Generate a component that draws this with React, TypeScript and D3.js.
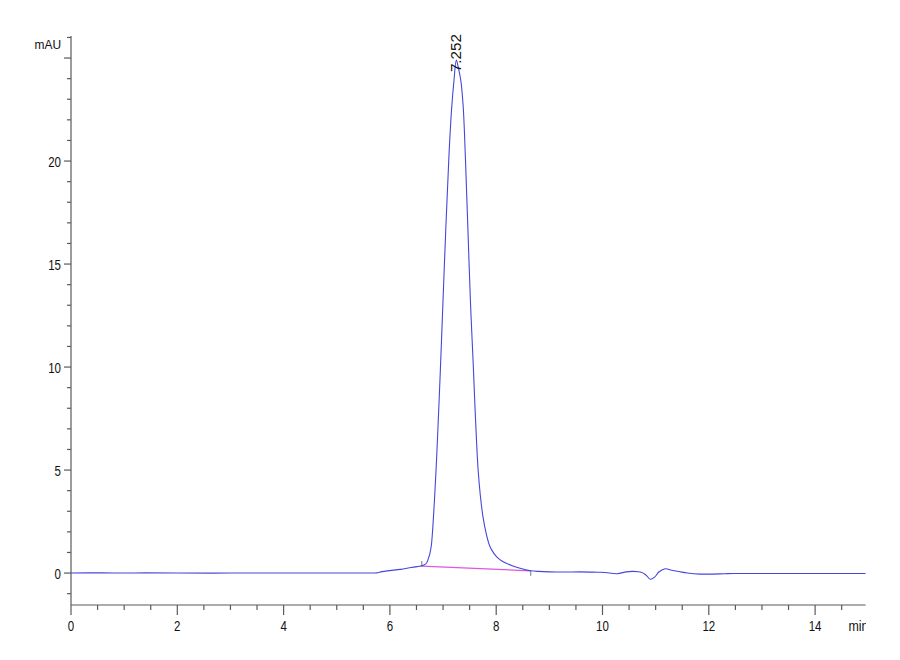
import React from "react";
import * as d3 from "d3";

// ---- data ----
const times = [
  0, 0.6, 1.0, 1.4, 2, 3, 4, 5, 5.6, 5.75, 5.85, 6.0, 6.2, 6.4, 6.55, 6.6, 6.65, 6.69, 6.72, 6.754,
  6.78, 6.8, 6.835, 6.87, 6.9, 6.95, 6.99, 7.05, 7.11, 7.16, 7.205, 7.25, 7.29, 7.335, 7.38, 7.42,
  7.465, 7.515, 7.57, 7.6, 7.63, 7.66, 7.7, 7.75, 7.81, 7.88, 7.95, 8.01, 8.1, 8.2, 8.3, 8.45, 8.55,
  8.65, 8.8, 9.0, 9.3, 9.58, 9.9, 10.05, 10.27, 10.45, 10.57, 10.74, 10.82, 10.9, 10.98, 11.06,
  11.18, 11.3, 11.46, 11.6, 11.83, 12.0, 12.3, 12.46, 13, 14, 14.95,
];
const signal = [
  0, 0.01, 0.0, 0.01, 0, 0, 0, 0, 0, 0.01, 0.07, 0.12, 0.18, 0.27, 0.33, 0.35, 0.4, 0.49, 0.68, 0.97,
  1.35, 1.94, 3.4, 5.1, 6.8, 9.9, 12.6, 16.6, 20.2, 22.5, 23.9, 24.9, 24.5, 23.9, 22.6, 20.2,
  16.9, 13.2, 10.0, 8.1, 6.4, 5.0, 3.8, 2.75, 1.94, 1.3, 0.98, 0.79, 0.6, 0.47, 0.36, 0.23, 0.16,
  0.11, 0.08, 0.06, 0.05, 0.06, 0.04, 0.03, -0.03, 0.06, 0.08, 0.03, -0.1, -0.3, -0.2, 0.05,
  0.21, 0.14, 0.06, 0.0, -0.05, -0.05, -0.03, -0.02, -0.02, -0.02, -0.02,
];
const baselineTimes = [6.6, 8.65];
const baselineValues = [0.34, 0.11];
const peakTime = 7.252;
const peakValue = 24.9;
const peakLabel = "7.252";
const xMajorTicks = [0, 2, 4, 6, 8, 10, 12, 14];
const yMajorTicks = [0, 5, 10, 15, 20, 25];
const yLabelledTicks = [0, 5, 10, 15, 20];
const xUnit = "min";
const yUnit = "mAU";

const FONT = "'Liberation Sans', Arial, sans-serif";

export default function App() {
  const x = d3.scaleLinear().domain([0, 14.95]).range([71, 865.6]);
  const y = d3.scaleLinear().domain([-1.55, 26.07]).range([605, 36]);

  const pts: [number, number][] = times.map((t, i) => [t, signal[i]]);
  const line = d3
    .line<[number, number]>()
    .x((d) => x(d[0]))
    .y((d) => y(d[1]))
    .curve(d3.curveCatmullRom.alpha(0.5));

  const xMinor = d3.range(0, 14.95, 0.5).filter((v) => !xMajorTicks.includes(v));
  const yMinor = d3.range(-1, 27, 1).filter((v) => !yMajorTicks.includes(v));

  const axisColor = "#5a5a5a";

  return (
    <svg
      width={900}
      height={660}
      style={{ position: "fixed", left: 0, top: 0, background: "#fff" }}
    >
      <rect x={0} y={0} width={900} height={660} fill="#fff" />
      <defs>
        <clipPath id="minclip">
          <rect x={0} y={0} width={866} height={660} />
        </clipPath>
      </defs>

      {/* y axis */}
      <line x1={x(0)} x2={x(0)} y1={y(26.07)} y2={y(-1.55)} stroke={axisColor} strokeWidth={1.2} />
      {yMajorTicks.map((v) => (
        <line key={"ym" + v} x1={x(0) - 7} x2={x(0)} y1={y(v)} y2={y(v)} stroke={axisColor} strokeWidth={1.2} />
      ))}
      {yMinor.map((v) => (
        <line key={"yn" + v} x1={x(0) - 4} x2={x(0)} y1={y(v)} y2={y(v)} stroke={axisColor} strokeWidth={1.2} />
      ))}
      {yLabelledTicks.map((v) => {
        const s = String(v);
        return (
          <text
            key={"yl" + v}
            x={61}
            y={y(v) + 5.5}
            textAnchor="end"
            fontFamily={FONT}
            fontSize={15.5}
            fill="#111"
            textLength={s.length * 6.4}
            lengthAdjust="spacingAndGlyphs"
          >
            {s}
          </text>
        );
      })}
      <text
        x={61}
        y={49}
        textAnchor="end"
        fontFamily={FONT}
        fontSize={13}
        fill="#111"
        textLength={26.5}
        lengthAdjust="spacingAndGlyphs"
      >
        {yUnit}
      </text>

      {/* x axis */}
      <line x1={x(0)} x2={x(14.95)} y1={605} y2={605} stroke={axisColor} strokeWidth={1.2} />
      {xMajorTicks.map((v) => (
        <line key={"xm" + v} x1={x(v)} x2={x(v)} y1={605} y2={615} stroke={axisColor} strokeWidth={1.2} />
      ))}
      {xMinor.map((v) => (
        <line key={"xn" + v} x1={x(v)} x2={x(v)} y1={605} y2={610} stroke={axisColor} strokeWidth={1.2} />
      ))}
      {xMajorTicks.map((v) => {
        const s = String(v);
        return (
          <text
            key={"xl" + v}
            x={x(v)}
            y={630.5}
            textAnchor="middle"
            fontFamily={FONT}
            fontSize={15.5}
            fill="#111"
            textLength={s.length * 6.4}
            lengthAdjust="spacingAndGlyphs"
          >
            {s}
          </text>
        );
      })}
      <g clipPath="url(#minclip)">
        <text
          x={848.5}
          y={630.5}
          fontFamily={FONT}
          fontSize={14}
          fill="#111"
          textLength={20}
          lengthAdjust="spacingAndGlyphs"
        >
          {xUnit}
        </text>
      </g>

      {/* integration baseline */}
      <line
        x1={x(baselineTimes[0])}
        y1={y(baselineValues[0])}
        x2={x(baselineTimes[1])}
        y2={y(baselineValues[1])}
        stroke="#e055e0"
        strokeWidth={1.3}
      />
      <line
        x1={x(baselineTimes[0])}
        x2={x(baselineTimes[0])}
        y1={y(baselineValues[0]) - 5}
        y2={y(baselineValues[0])}
        stroke="#777"
        strokeWidth={1}
      />
      <line
        x1={x(baselineTimes[1])}
        x2={x(baselineTimes[1])}
        y1={y(baselineValues[1])}
        y2={y(baselineValues[1]) + 5}
        stroke="#777"
        strokeWidth={1}
      />

      {/* signal */}
      <path d={line(pts) || ""} fill="none" stroke="#4646dc" strokeWidth={1.1} />

      {/* peak label */}
      <text
        transform={`translate(${x(peakTime) + 5},${y(peakValue) + 12}) rotate(-90)`}
        fontFamily={FONT}
        fontSize={14}
        fill="#111"
        textLength={38}
        lengthAdjust="spacingAndGlyphs"
      >
        {peakLabel}
      </text>
    </svg>
  );
}
